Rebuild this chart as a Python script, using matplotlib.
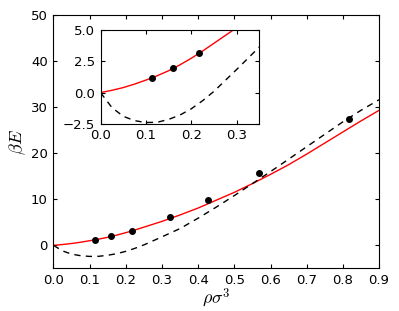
import matplotlib
matplotlib.use('Agg')
import matplotlib.pyplot as plt

# values
rho = [0.0, 0.025, 0.05, 0.075, 0.1, 0.125, 0.15, 0.175, 0.2, 0.225, 0.25, 0.3,
       0.35, 0.4, 0.45, 0.5, 0.55, 0.6, 0.65, 0.7, 0.75, 0.8, 0.85, 0.9]
e_red = [0.0, 0.18, 0.4, 0.68, 1.0, 1.35, 1.75, 2.22, 2.75, 3.33, 3.95, 5.2,
         6.6, 8.1, 9.8, 11.5, 13.4, 15.4, 17.5, 19.8, 22.2, 24.6, 27.0, 29.3]
e_dash = [0.0, -1.2, -1.9, -2.25, -2.4, -2.38, -2.15, -1.8, -1.3, -0.65, 0.1, 1.85,
          3.65, 5.9, 8.3, 10.8, 13.4, 16.0, 18.7, 21.4, 24.1, 26.8, 29.3, 31.6]
rho_pts = [0.114, 0.160, 0.218, 0.322, 0.428, 0.567, 0.817]
e_pts = [1.15, 1.95, 3.2, 6.1, 9.85, 15.6, 27.5]

plt.rcParams['mathtext.fontset'] = 'cm'
plt.rcParams['lines.scale_dashes'] = False
plt.rcParams['xtick.direction'] = 'in'
plt.rcParams['ytick.direction'] = 'in'
plt.rcParams['xtick.top'] = True
plt.rcParams['ytick.right'] = True
plt.rcParams['xtick.major.size'] = 3
plt.rcParams['ytick.major.size'] = 3
plt.rcParams['xtick.major.pad'] = 4
plt.rcParams['ytick.major.pad'] = 4
plt.rcParams['axes.linewidth'] = 0.8


def draw(ax, ms):
    ax.plot(rho, e_red, color='r', lw=1.0)
    ax.plot(rho, e_dash, color='k', lw=1.0, linestyle=(0, (4.5, 3.8)))
    ax.plot(rho_pts, e_pts, 'o', color='k', ms=ms)


fig = plt.figure(figsize=(3.99, 3.11), dpi=100)

ax = fig.add_axes([0.134, 0.137, 0.816, 0.815])
draw(ax, 4)
ax.set_xlim(0, 0.9)
ax.set_ylim(-5, 50)
ax.set_xticks([0.0, 0.1, 0.2, 0.3, 0.4, 0.5, 0.6, 0.7, 0.8, 0.9])
ax.set_xticklabels(['0.0', '0.1', '0.2', '0.3', '0.4', '0.5', '0.6', '0.7', '0.8', '0.9'])
ax.set_yticks([0, 10, 20, 30, 40, 50])
ax.tick_params(labelsize=9.5)
ax.set_xlabel(r'$\rho\sigma^3$', fontsize=13, labelpad=-1)
ax.set_ylabel(r'$\beta E$', fontsize=13, labelpad=2)

ins = fig.add_axes([0.252, 0.602, 0.398, 0.301])
draw(ins, 4)
ins.set_xlim(0, 0.35)
ins.set_ylim(-2.5, 5.0)
ins.set_xticks([0.0, 0.1, 0.2, 0.3])
ins.set_yticks([-2.5, 0.0, 2.5, 5.0])
ins.set_yticklabels(['\u22122.5', '0.0', '2.5', '5.0'])
ins.tick_params(labelsize=9.5)

fig.savefig('out.png', dpi=100)
